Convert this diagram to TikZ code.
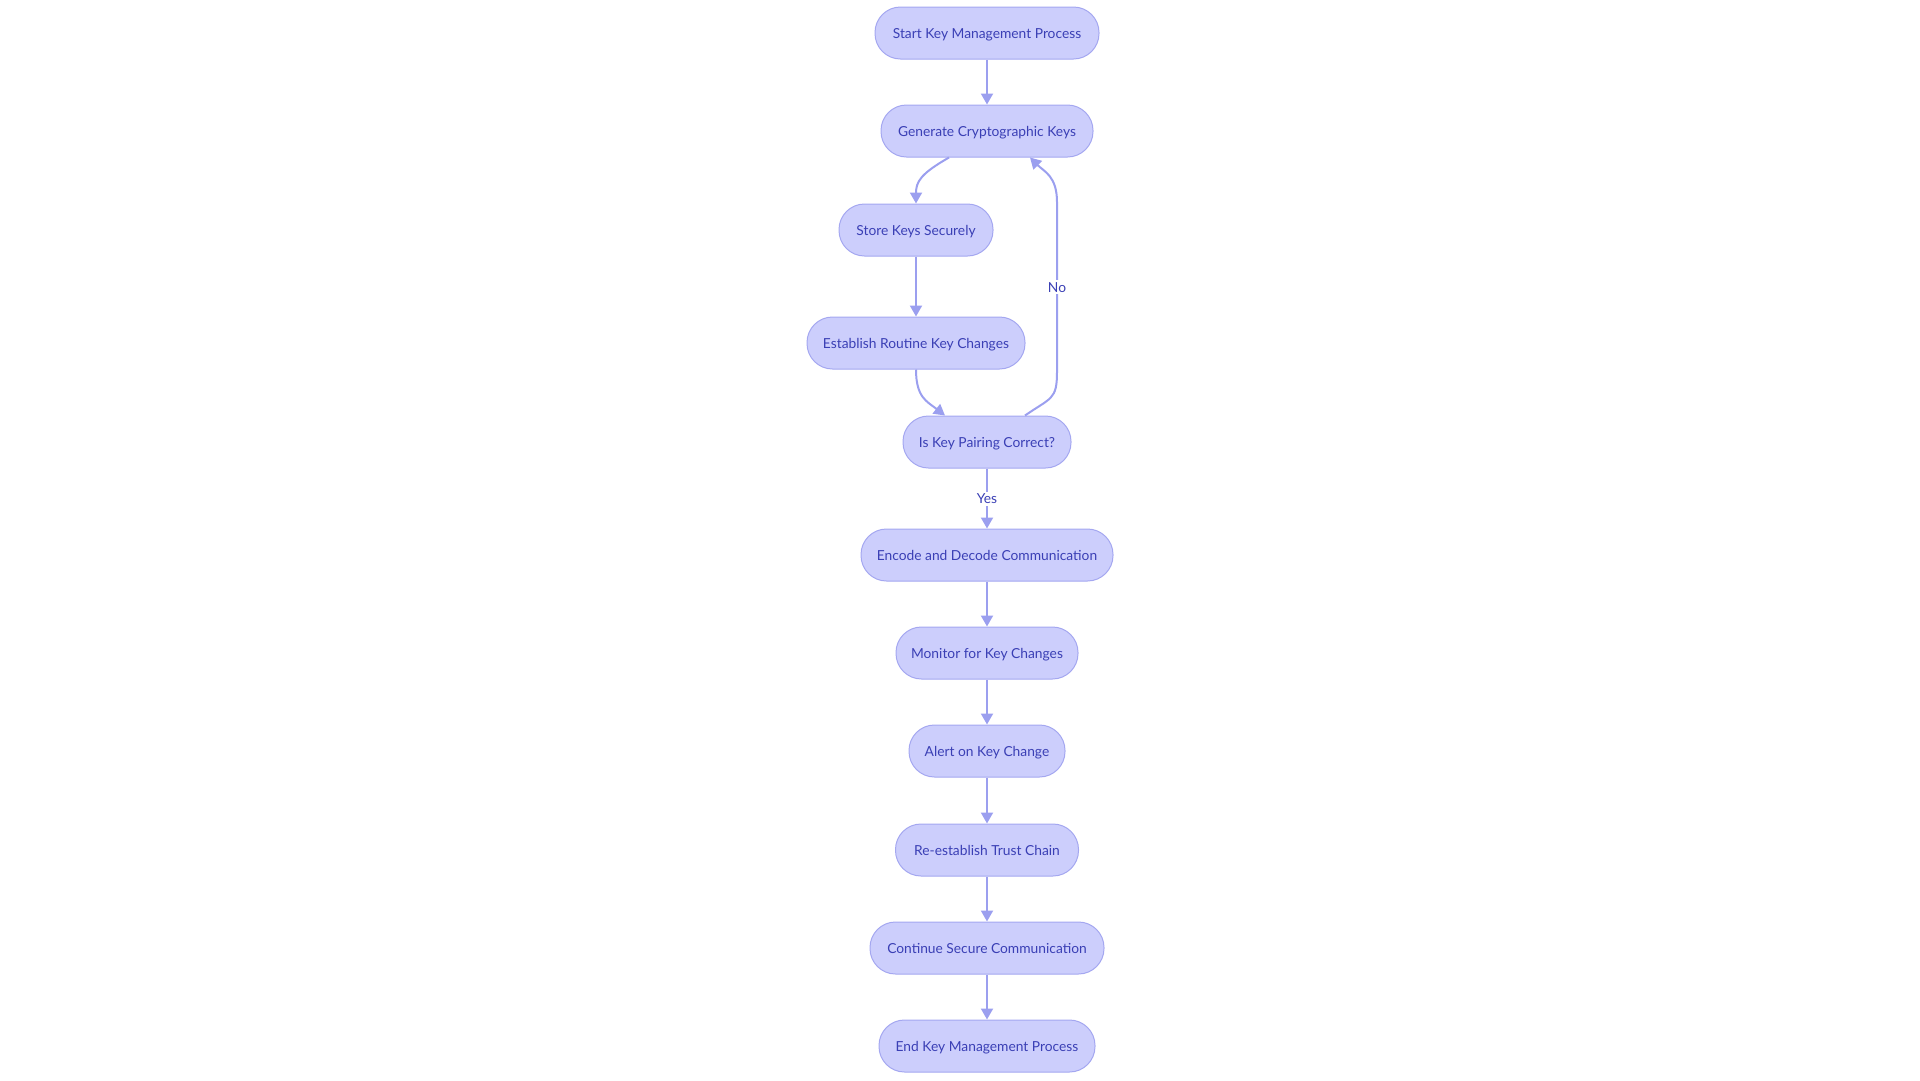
\documentclass[tikz,border=0pt]{standalone}
\usepackage{fontspec}
\setmainfont{Lato}
\usetikzlibrary{arrows.meta,calc}
\definecolor{boxfill}{RGB}{204,206,252}
\definecolor{boxline}{RGB}{164,167,240}
\definecolor{boxtext}{RGB}{58,63,181}
\definecolor{edgecol}{RGB}{155,159,239}

\begin{document}
\begin{tikzpicture}[x=1pt,y=-1pt,
    stage/.style={draw=boxline,fill=boxfill,text=boxtext,line width=1pt,
      rounded corners=25.5pt,minimum height=52pt,inner sep=0pt,
      text height=10pt,text depth=0pt,
      font=\fontsize{13.8}{16}\selectfont},
    flow/.style={draw=edgecol,line width=2pt,
      -{Triangle[length=11pt,width=12pt]}},
    tag/.style={fill=white,text=boxtext,inner sep=2pt,
      text height=10pt,text depth=0pt,
      font=\fontsize{13.8}{16}\selectfont}]
    \useasboundingbox (0,0) rectangle (1920,1080);
    % steps
    \node[stage,minimum width=224pt] (start) at (987,33) {Start Key Management Process};
    \node[stage,minimum width=212pt] (gen) at (987,131) {Generate Cryptographic Keys};
    \node[stage,minimum width=154pt] (store) at (916,230) {Store Keys Securely};
    \node[stage,minimum width=218pt] (routine) at (916,343) {Establish Routine Key Changes};
    \node[stage,minimum width=168pt] (check) at (987,442) {Is Key Pairing Correct?};
    \node[stage,minimum width=252pt] (encode) at (987,555) {Encode and Decode Communication};
    \node[stage,minimum width=182pt] (monitor) at (987,653) {Monitor for Key Changes};
    \node[stage,minimum width=156pt] (alert) at (987,751) {Alert on Key Change};
    \node[stage,minimum width=183pt] (trust) at (987,850) {Re-establish Trust Chain};
    \node[stage,minimum width=234pt] (cont) at (987,948) {Continue Secure Communication};
    \node[stage,minimum width=216pt] (finish) at (987,1046) {End Key Management Process};
    % straight links
    \foreach \a/\b in {start/gen,store/routine,encode/monitor,monitor/alert,
      alert/trust,trust/cont,cont/finish}
    \draw[flow] (\a) -- (\b);
    \draw[flow] (check) -- node[tag] {Yes} (encode);
    % curved links
    \draw[flow] ($(gen.south)+(-38,0)$) .. controls +(-28,16) and +(0,-22) .. (store.north);
    \draw[flow] (routine.south) .. controls +(0,28) and +(-18,-14) .. ($(check.north)+(-42,0)$);
    \coordinate (nolow) at (1057,372);
    \coordinate (nohigh) at (1057,202);
    \draw[flow] ($(check.north)+(38,0)$) .. controls +(26,-18) and +(0,28) .. (nolow)
      -- node[tag] {No} (nohigh) .. controls +(0,-26) and +(14,14) .. ($(gen.south)+(43,0)$);
\end{tikzpicture}
\end{document}
